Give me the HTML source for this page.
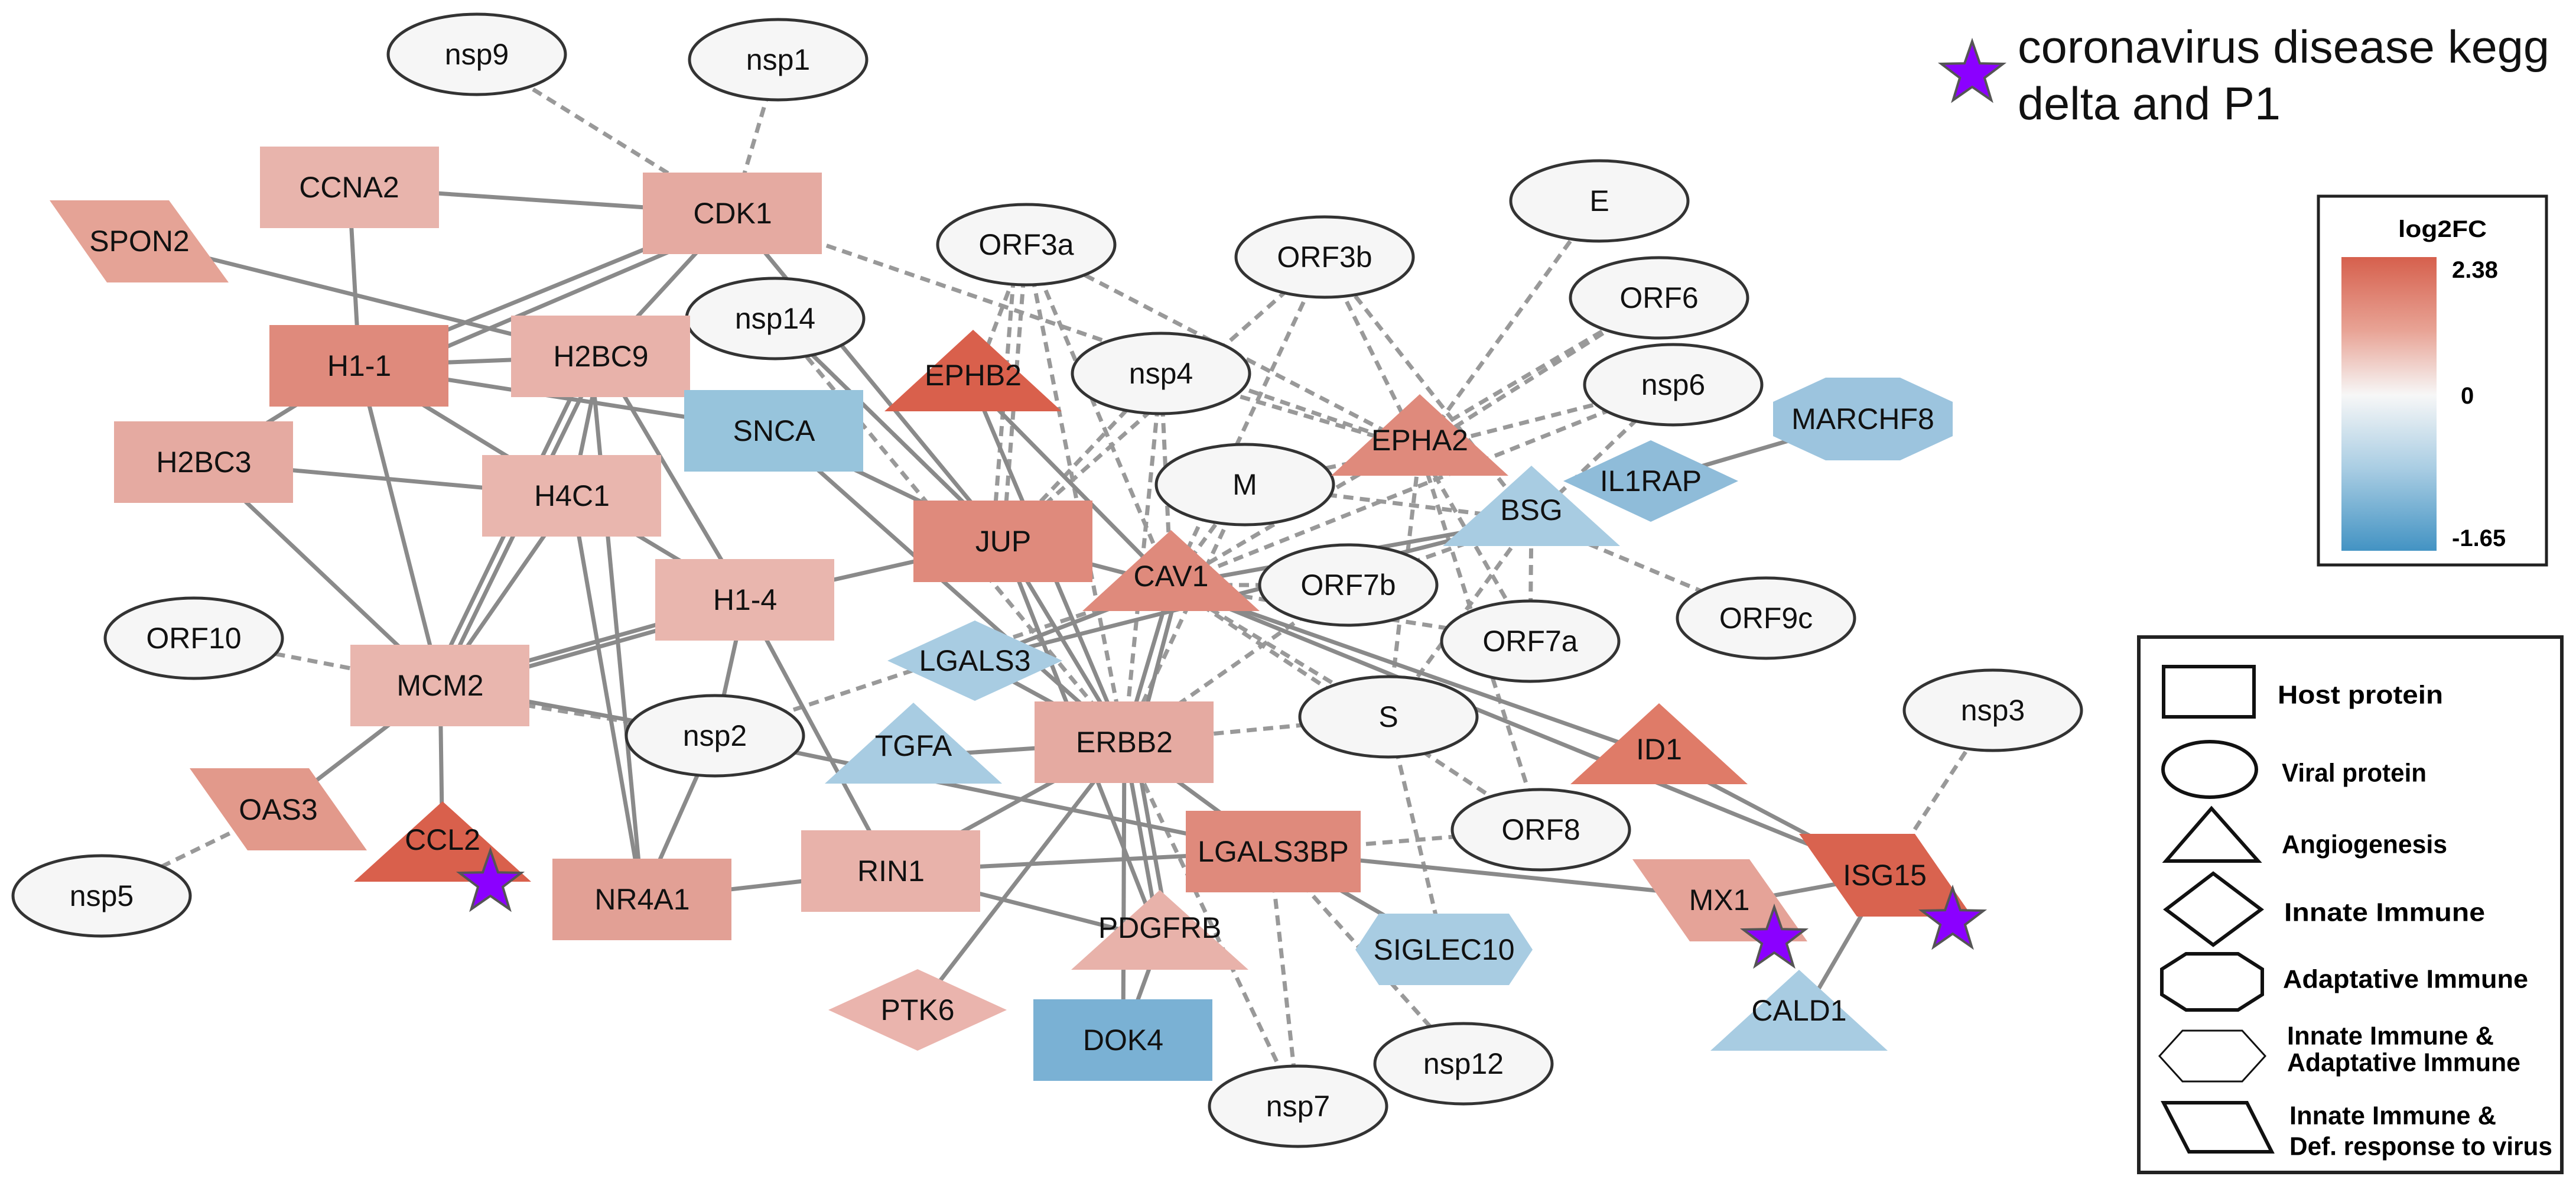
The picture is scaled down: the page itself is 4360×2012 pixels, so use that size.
<!DOCTYPE html>
<html><head><meta charset="utf-8"><style>
html,body{margin:0;padding:0;background:#fff}
svg{display:block}
text{font-family:"Liberation Sans",sans-serif}
.l{font-size:50px;text-anchor:middle;dominant-baseline:central;fill:#111}
.s{stroke:#8a8a8a;stroke-width:7;fill:none}
.d{stroke:#999;stroke-width:7;fill:none;stroke-dasharray:17 11}
.e{fill:#f6f6f6;stroke:#333;stroke-width:5}
.lg{font-size:44px;font-weight:bold;fill:#000;dominant-baseline:central}
</style></head><body>
<svg width="4360" height="2012" viewBox="0 0 4360 2012" xmlns="http://www.w3.org/2000/svg">
<defs>
<linearGradient id="g" x1="0" y1="0" x2="0" y2="1">
<stop offset="0" stop-color="#d6604d"/><stop offset="0.25" stop-color="#e8a395"/><stop offset="0.47" stop-color="#f7f7f7"/><stop offset="0.72" stop-color="#a9cde3"/><stop offset="1" stop-color="#4393c3"/>
</linearGradient>
<polygon id="star" points="0,-55 12.9,-17.8 52.3,-17 20.9,6.8 32.3,44.5 0,22 -32.3,44.5 -20.9,6.8 -52.3,-17 -12.9,-17.8" fill="#8b00ff" stroke="#555" stroke-width="4"/>
</defs>

<!-- dashed edges -->
<g class="d">
<line x1="807" y1="92" x2="1240" y2="361"/>
<line x1="1317" y1="101" x2="1240" y2="361"/>
<line x1="1240" y1="361" x2="2403" y2="760"/>
<line x1="1737" y1="414" x2="1647" y2="650"/>
<line x1="1737" y1="414" x2="1698" y2="916"/>
<line x1="1720" y1="414" x2="1680" y2="916"/>
<line x1="1737" y1="414" x2="1982" y2="990"/>
<line x1="1737" y1="414" x2="2403" y2="760"/>
<line x1="1737" y1="414" x2="1903" y2="1256"/>
<line x1="2242" y1="435" x2="1698" y2="916"/>
<line x1="2242" y1="435" x2="1982" y2="990"/>
<line x1="2242" y1="435" x2="2403" y2="760"/>
<line x1="2242" y1="435" x2="2592" y2="880"/>
<line x1="2707" y1="340" x2="2403" y2="760"/>
<line x1="2808" y1="504" x2="1982" y2="990"/>
<line x1="2808" y1="504" x2="2403" y2="760"/>
<line x1="2832" y1="651" x2="2403" y2="760"/>
<line x1="2832" y1="651" x2="1982" y2="990"/>
<line x1="2832" y1="651" x2="2592" y2="880"/>
<line x1="1312" y1="539" x2="1903" y2="1256"/>
<line x1="1312" y1="539" x2="1698" y2="916"/>
<line x1="1965" y1="632" x2="1698" y2="916"/>
<line x1="1965" y1="632" x2="1982" y2="990"/>
<line x1="1965" y1="632" x2="2403" y2="760"/>
<line x1="1965" y1="632" x2="1903" y2="1256"/>
<line x1="2107" y1="820" x2="1982" y2="990"/>
<line x1="2107" y1="820" x2="2403" y2="760"/>
<line x1="2107" y1="820" x2="2592" y2="880"/>
<line x1="2107" y1="820" x2="1903" y2="1256"/>
<line x1="2282" y1="990" x2="1982" y2="990"/>
<line x1="2282" y1="990" x2="2592" y2="880"/>
<line x1="2282" y1="990" x2="1903" y2="1256"/>
<line x1="2590" y1="1085" x2="1982" y2="990"/>
<line x1="2590" y1="1085" x2="2592" y2="880"/>
<line x1="2590" y1="1085" x2="2403" y2="760"/>
<line x1="2989" y1="1046" x2="2592" y2="880"/>
<line x1="2350" y1="1213" x2="1982" y2="990"/>
<line x1="2350" y1="1213" x2="2592" y2="880"/>
<line x1="2350" y1="1213" x2="2403" y2="760"/>
<line x1="2350" y1="1213" x2="1903" y2="1256"/>
<line x1="2350" y1="1213" x2="2444" y2="1607"/>
<line x1="2608" y1="1404" x2="2155" y2="1441"/>
<line x1="2608" y1="1404" x2="1982" y2="990"/>
<line x1="2608" y1="1404" x2="2403" y2="760"/>
<line x1="2477" y1="1800" x2="2155" y2="1441"/>
<line x1="2197" y1="1872" x2="1903" y2="1256"/>
<line x1="2197" y1="1872" x2="2150" y2="1441"/>
<line x1="3373" y1="1202" x2="3190" y2="1481"/>
<line x1="328" y1="1080" x2="745" y2="1160"/>
<line x1="172" y1="1516" x2="471" y2="1370"/>
<line x1="1210" y1="1245" x2="745" y2="1170"/>
<line x1="1210" y1="1245" x2="1982" y2="990"/>
</g>

<!-- solid edges -->
<g class="s">
<line x1="591" y1="317" x2="1240" y2="361"/>
<line x1="591" y1="317" x2="608" y2="619"/>
<line x1="236" y1="408" x2="1017" y2="603"/>
<line x1="1240" y1="361" x2="608" y2="619"/>
<line x1="1240" y1="380" x2="608" y2="650"/>
<line x1="1240" y1="361" x2="1017" y2="603"/>
<line x1="1240" y1="361" x2="1698" y2="916"/>
<line x1="608" y1="619" x2="1017" y2="603"/>
<line x1="608" y1="619" x2="1310" y2="729"/>
<line x1="608" y1="619" x2="345" y2="782"/>
<line x1="608" y1="619" x2="745" y2="1160"/>
<line x1="608" y1="619" x2="968" y2="839"/>
<line x1="1017" y1="603" x2="968" y2="839"/>
<line x1="1017" y1="603" x2="745" y2="1160"/>
<line x1="1000" y1="603" x2="730" y2="1160"/>
<line x1="1017" y1="603" x2="1261" y2="1015"/>
<line x1="1000" y1="603" x2="1087" y2="1522"/>
<line x1="345" y1="782" x2="968" y2="839"/>
<line x1="345" y1="782" x2="745" y2="1160"/>
<line x1="968" y1="839" x2="745" y2="1160"/>
<line x1="968" y1="839" x2="1261" y2="1015"/>
<line x1="968" y1="839" x2="1087" y2="1522"/>
<line x1="1261" y1="1015" x2="745" y2="1160"/>
<line x1="1261" y1="1025" x2="745" y2="1170"/>
<line x1="1261" y1="1015" x2="1698" y2="916"/>
<line x1="1261" y1="1015" x2="1210" y2="1245"/>
<line x1="1261" y1="1015" x2="1508" y2="1474"/>
<line x1="1310" y1="729" x2="1698" y2="916"/>
<line x1="1310" y1="729" x2="1903" y2="1256"/>
<line x1="1312" y1="539" x2="1698" y2="916"/>
<line x1="1647" y1="650" x2="1982" y2="990"/>
<line x1="1647" y1="650" x2="1903" y2="1256"/>
<line x1="1698" y1="916" x2="1982" y2="990"/>
<line x1="1698" y1="916" x2="1903" y2="1256"/>
<line x1="1982" y1="990" x2="1903" y2="1256"/>
<line x1="1995" y1="990" x2="1925" y2="1256"/>
<line x1="1982" y1="990" x2="2592" y2="880"/>
<line x1="1650" y1="1118" x2="2592" y2="880"/>
<line x1="1982" y1="990" x2="2808" y2="1280"/>
<line x1="1982" y1="990" x2="3190" y2="1481"/>
<line x1="1650" y1="1118" x2="1903" y2="1256"/>
<line x1="1650" y1="1118" x2="1982" y2="990"/>
<line x1="1546" y1="1280" x2="1903" y2="1256"/>
<line x1="1210" y1="1245" x2="2155" y2="1441"/>
<line x1="745" y1="1160" x2="1210" y2="1245"/>
<line x1="1903" y1="1256" x2="1508" y2="1474"/>
<line x1="1903" y1="1256" x2="1963" y2="1590"/>
<line x1="1920" y1="1256" x2="1980" y2="1590"/>
<line x1="1903" y1="1256" x2="1553" y2="1709"/>
<line x1="1903" y1="1256" x2="1901" y2="1760"/>
<line x1="1963" y1="1590" x2="1901" y2="1760"/>
<line x1="1903" y1="1256" x2="2155" y2="1441"/>
<line x1="1508" y1="1474" x2="1087" y2="1522"/>
<line x1="1508" y1="1474" x2="2155" y2="1441"/>
<line x1="1508" y1="1474" x2="1963" y2="1590"/>
<line x1="1698" y1="916" x2="1963" y2="1590"/>
<line x1="2155" y1="1441" x2="2960" y2="1523"/>
<line x1="2155" y1="1441" x2="2444" y2="1607"/>
<line x1="2960" y1="1523" x2="3190" y2="1481"/>
<line x1="3190" y1="1481" x2="3045" y2="1730"/>
<line x1="2808" y1="1280" x2="3190" y2="1481"/>
<line x1="3153" y1="709" x2="2794" y2="814"/>
<line x1="745" y1="1160" x2="471" y2="1370"/>
<line x1="745" y1="1160" x2="749" y2="1450"/>
<line x1="1210" y1="1245" x2="1087" y2="1522"/>
</g>

<!-- ellipses -->
<g>
<ellipse class="e" cx="807" cy="92" rx="150" ry="68"/><text class="l" x="807" y="92">nsp9</text>
<ellipse class="e" cx="1317" cy="101" rx="150" ry="68"/><text class="l" x="1317" y="101">nsp1</text>
<ellipse class="e" cx="1737" cy="414" rx="150" ry="68"/><text class="l" x="1737" y="414">ORF3a</text>
<ellipse class="e" cx="2242" cy="435" rx="150" ry="68"/><text class="l" x="2242" y="435">ORF3b</text>
<ellipse class="e" cx="2707" cy="340" rx="150" ry="68"/><text class="l" x="2707" y="340">E</text>
<ellipse class="e" cx="2808" cy="504" rx="150" ry="68"/><text class="l" x="2808" y="504">ORF6</text>
<ellipse class="e" cx="1312" cy="539" rx="150" ry="68"/><text class="l" x="1312" y="539">nsp14</text>
<ellipse class="e" cx="1965" cy="632" rx="150" ry="68"/><text class="l" x="1965" y="632">nsp4</text>
<ellipse class="e" cx="2832" cy="651" rx="150" ry="68"/><text class="l" x="2832" y="651">nsp6</text>
<ellipse class="e" cx="2107" cy="820" rx="150" ry="68"/><text class="l" x="2107" y="820">M</text>
<ellipse class="e" cx="2282" cy="990" rx="150" ry="68"/><text class="l" x="2282" y="990">ORF7b</text>
<ellipse class="e" cx="2590" cy="1085" rx="150" ry="68"/><text class="l" x="2590" y="1085">ORF7a</text>
<ellipse class="e" cx="2989" cy="1046" rx="150" ry="68"/><text class="l" x="2989" y="1046">ORF9c</text>
<ellipse class="e" cx="328" cy="1080" rx="150" ry="68"/><text class="l" x="328" y="1080">ORF10</text>
<ellipse class="e" cx="2350" cy="1213" rx="150" ry="68"/><text class="l" x="2350" y="1213">S</text>
<ellipse class="e" cx="1210" cy="1245" rx="150" ry="68"/><text class="l" x="1210" y="1245">nsp2</text>
<ellipse class="e" cx="3373" cy="1202" rx="150" ry="68"/><text class="l" x="3373" y="1202">nsp3</text>
<ellipse class="e" cx="2608" cy="1404" rx="150" ry="68"/><text class="l" x="2608" y="1404">ORF8</text>
<ellipse class="e" cx="172" cy="1516" rx="150" ry="68"/><text class="l" x="172" y="1516">nsp5</text>
<ellipse class="e" cx="2477" cy="1800" rx="150" ry="68"/><text class="l" x="2477" y="1800">nsp12</text>
<ellipse class="e" cx="2197" cy="1872" rx="150" ry="68"/><text class="l" x="2197" y="1872">nsp7</text>
</g>

<!-- rects -->
<g>
<rect x="440" y="248" width="303" height="138" fill="#e8b4ac"/><text class="l" x="591" y="317">CCNA2</text>
<rect x="1088" y="292" width="303" height="138" fill="#e5aaa1"/><text class="l" x="1240" y="361">CDK1</text>
<rect x="456" y="550" width="303" height="138" fill="#df8a7c"/><text class="l" x="608" y="619">H1-1</text>
<rect x="865" y="534" width="303" height="138" fill="#e8b2aa"/><text class="l" x="1017" y="603">H2BC9</text>
<rect x="1158" y="660" width="303" height="138" fill="#97c4dc"/><text class="l" x="1310" y="729">SNCA</text>
<rect x="193" y="713" width="303" height="138" fill="#e5aaa1"/><text class="l" x="345" y="782">H2BC3</text>
<rect x="816" y="770" width="303" height="138" fill="#e9b6ae"/><text class="l" x="968" y="839">H4C1</text>
<rect x="1546" y="847" width="303" height="138" fill="#df8a7c"/><text class="l" x="1698" y="916">JUP</text>
<rect x="1109" y="946" width="303" height="138" fill="#e9b6ae"/><text class="l" x="1261" y="1015">H1-4</text>
<rect x="593" y="1091" width="303" height="138" fill="#e9b6ae"/><text class="l" x="745" y="1160">MCM2</text>
<rect x="1751" y="1187" width="303" height="138" fill="#e5aaa1"/><text class="l" x="1903" y="1256">ERBB2</text>
<rect x="2007" y="1372" width="296" height="138" fill="#df8a7c"/><text class="l" x="2155" y="1441">LGALS3BP</text>
<rect x="1356" y="1405" width="303" height="138" fill="#e8b2aa"/><text class="l" x="1508" y="1474">RIN1</text>
<rect x="935" y="1453" width="303" height="138" fill="#e2a095"/><text class="l" x="1087" y="1522">NR4A1</text>
<rect x="1749" y="1691" width="303" height="138" fill="#7ab1d4"/><text class="l" x="1901" y="1760">DOK4</text>
</g>

<!-- triangles -->
<g>
<polygon points="1647,558 1797,696 1497,696" fill="#d9604c"/><text class="l" x="1647" y="635">EPHB2</text>
<polygon points="2403,667 2553,805 2253,805" fill="#df8a7c"/><text class="l" x="2403" y="745">EPHA2</text>
<polygon points="2592,788 2742,924 2442,924" fill="#a8cce2"/><text class="l" x="2592" y="863">BSG</text>
<polygon points="1982,897 2132,1034 1832,1034" fill="#df8a7c"/><text class="l" x="1982" y="975">CAV1</text>
<polygon points="1546,1189 1696,1326 1396,1326" fill="#a8cce2"/><text class="l" x="1546" y="1262">TGFA</text>
<polygon points="2808,1190 2958,1327 2658,1327" fill="#df7b68"/><text class="l" x="2808" y="1268">ID1</text>
<polygon points="749,1356 899,1492 599,1492" fill="#d9604c"/><text class="l" x="749" y="1421">CCL2</text>
<polygon points="1963,1506 2113,1641 1813,1641" fill="#e8b2aa"/><text class="l" x="1963" y="1570">PDGFRB</text>
<polygon points="3045,1641 3195,1778 2895,1778" fill="#a8cce2"/><text class="l" x="3045" y="1710">CALD1</text>
</g>

<!-- diamonds -->
<polygon points="1650,1050 1798,1118 1650,1186 1502,1118" fill="#a8cce2"/><text class="l" x="1650" y="1118">LGALS3</text>
<polygon points="2794,745 2942,814 2794,883 2646,814" fill="#8fbcd9"/><text class="l" x="2794" y="814">IL1RAP</text>
<polygon points="1553,1640 1704,1709 1553,1778 1402,1709" fill="#eab4ad"/><text class="l" x="1553" y="1709">PTK6</text>

<!-- octagon / hexagon -->
<polygon points="3090,639 3216,639 3305,680 3305,738 3216,779 3090,779 3001,738 3001,680" fill="#9cc4de"/><text class="l" x="3153" y="709">MARCHF8</text>
<polygon points="2334,1546 2554,1546 2594,1607 2554,1667 2334,1667 2294,1607" fill="#a8cce2"/><text class="l" x="2444" y="1607">SIGLEC10</text>

<!-- parallelograms -->
<polygon points="84,339 286,339 387,478 181,478" fill="#e5a396"/><text class="l" x="236" y="408">SPON2</text>
<polygon points="321,1300 523,1300 621,1439 419,1439" fill="#e2998b"/><text class="l" x="471" y="1370">OAS3</text>
<polygon points="2763,1454 2961,1454 3059,1593 2860,1593" fill="#e5a398"/><text class="l" x="2910" y="1523">MX1</text>
<polygon points="3045,1411 3241,1411 3338,1551 3143,1551" fill="#d9634f"/><text class="l" x="3190" y="1481">ISG15</text>

<!-- stars -->
<use href="#star" x="830" y="1494"/>
<use href="#star" x="3003" y="1590"/>
<use href="#star" x="3305" y="1558"/>
<use href="#star" x="3338" y="125"/>

<!-- top legend text -->
<text x="3415" y="106" font-size="78" fill="#111" textLength="900" lengthAdjust="spacingAndGlyphs">coronavirus disease kegg</text>
<text x="3415" y="202" font-size="78" fill="#111" textLength="445" lengthAdjust="spacingAndGlyphs">delta and P1</text>

<!-- log2FC legend -->
<rect x="3924" y="332" width="386" height="624" fill="#fff" stroke="#222" stroke-width="5"/>
<text x="4134" y="388" font-size="40" font-weight="bold" text-anchor="middle" dominant-baseline="central" textLength="150" lengthAdjust="spacingAndGlyphs">log2FC</text>
<rect x="3963" y="435" width="161" height="497" fill="url(#g)"/>
<text x="4150" y="457" font-size="40" font-weight="bold" dominant-baseline="central">2.38</text>
<text x="4165" y="670" font-size="40" font-weight="bold" dominant-baseline="central">0</text>
<text x="4150" y="911" font-size="40" font-weight="bold" dominant-baseline="central">-1.65</text>

<!-- shape legend -->
<rect x="3620" y="1078" width="716" height="906" fill="#fff" stroke="#222" stroke-width="6"/>
<g fill="none" stroke="#111" stroke-width="6">
<rect x="3662" y="1128" width="153" height="85"/>
<ellipse cx="3740" cy="1302" rx="79" ry="47"/>
<polygon points="3743,1368 3822,1457 3666,1457"/>
<polygon points="3746,1478 3827,1539 3746,1599 3666,1539"/>
<polygon points="3700,1614 3788,1614 3829,1640 3829,1683 3788,1709 3700,1709 3659,1683 3659,1640"/>
<polygon points="3694,1744 3795,1744 3834,1787 3795,1830 3694,1830 3655,1787" stroke-width="3"/>
<polygon points="3662,1866 3803,1866 3845,1949 3705,1949"/>
</g>
<text class="lg" x="3855" y="1176" textLength="280" lengthAdjust="spacingAndGlyphs">Host protein</text>
<text class="lg" x="3862" y="1308" textLength="245" lengthAdjust="spacingAndGlyphs">Viral protein</text>
<text class="lg" x="3862" y="1429" textLength="280" lengthAdjust="spacingAndGlyphs">Angiogenesis</text>
<text class="lg" x="3866" y="1544" textLength="340" lengthAdjust="spacingAndGlyphs">Innate Immune</text>
<text class="lg" x="3864" y="1657" textLength="415" lengthAdjust="spacingAndGlyphs">Adaptative Immune</text>
<text class="lg" x="3871" y="1753" textLength="350" lengthAdjust="spacingAndGlyphs">Innate Immune &amp;</text>
<text class="lg" x="3871" y="1798" textLength="395" lengthAdjust="spacingAndGlyphs">Adaptative Immune</text>
<text class="lg" x="3875" y="1888" textLength="350" lengthAdjust="spacingAndGlyphs">Innate Immune &amp;</text>
<text class="lg" x="3875" y="1940" textLength="445" lengthAdjust="spacingAndGlyphs">Def. response to virus</text>
</svg>
</body></html>
